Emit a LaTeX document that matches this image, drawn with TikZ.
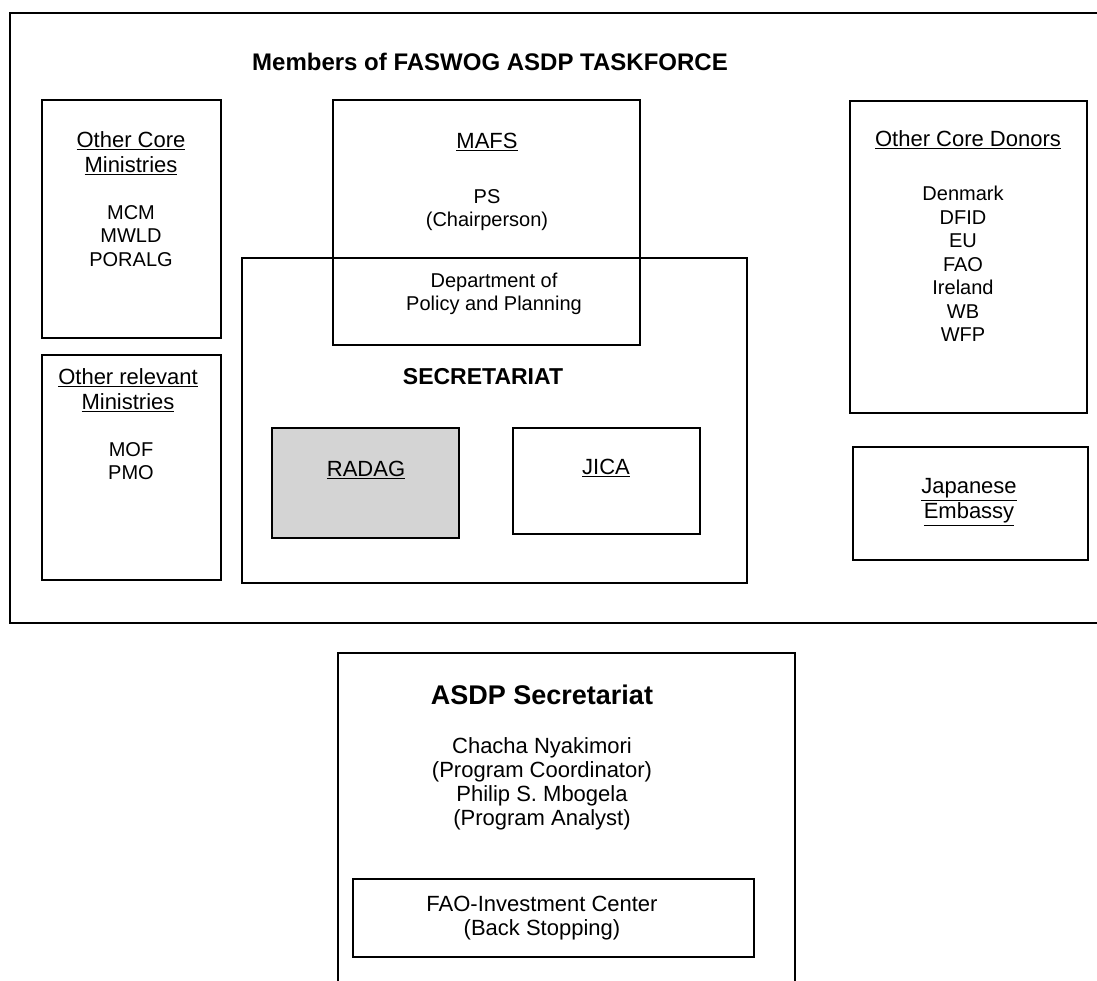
\documentclass[tikz,border=0pt]{standalone}
\usepackage{fontspec}
\setmainfont{Liberation Sans}
\begin{document}
\begin{tikzpicture}[x=1pt,y=-1pt,line width=1.6pt,every node/.style={font=\fontsize{20}{23.5}\selectfont,align=center,inner sep=0pt},head/.style={font=\bfseries\fontsize{23}{27}\selectfont},sub/.style={font=\fontsize{22}{25}\selectfont},low/.style={font=\fontsize{22}{24}\selectfont}]
		\useasboundingbox(0,0)rectangle(1097,981);
		\clip(0,0)rectangle(1097,981);
		\coordinate(TF1)at(10,13);
		\coordinate(TF2)at(1110,623);
		\coordinate(OCM1)at(42,100);
		\coordinate(OCM2)at(221,338);
		\coordinate(ORM1)at(42,355);
		\coordinate(ORM2)at(221,580);
		\coordinate(SEC1)at(242,258);
		\coordinate(SEC2)at(747,583);
		\coordinate(MAFS1)at(333,100);
		\coordinate(MAFS2)at(640,345);
		\coordinate(RADAG1)at(272,428);
		\coordinate(RADAG2)at(459,538);
		\coordinate(JICA1)at(513,428);
		\coordinate(JICA2)at(700,534);
		\coordinate(DON1)at(850,101);
		\coordinate(DON2)at(1087,413);
		\coordinate(EMB1)at(853,447);
		\coordinate(EMB2)at(1088,560);
		\coordinate(ASDP1)at(338,653);
		\coordinate(ASDP2)at(795,990);
		\coordinate(FAOIC1)at(353,879);
		\coordinate(FAOIC2)at(754,957);
		\fill[black!17](RADAG1)rectangle(RADAG2);
		\foreach\b in{TF,OCM,ORM,SEC,MAFS,RADAG,JICA,DON,EMB,FAOIC}{\draw(\b1)rectangle(\b2);}
		\draw(ASDP1|-ASDP2)--(ASDP1)--(ASDP2|-ASDP1)--(ASDP2);
		\node[head,font=\bfseries\fontsize{24}{28}\selectfont](title)at(490,62){Members of FASWOG ASDP TASKFORCE};
		\node[sub](ocmh)at(131,153){\underline{Other Core}\\\underline{Ministries}};
		\node(ocm)at(131,236){MCM\\MWLD\\PORALG};
		\node[sub](ormh)at(128,390){\underline{Other relevant}\\\underline{Ministries}};
		\node(orm)at(131,461){MOF\\PMO};
		\node[sub](mafs)at(487,142){\underline{MAFS}};
		\node(ps)at(487,210){PS\\(Chairperson)};
		\node(dpp)at(494,294){Department of\\Policy and Planning};
		\node[head](sec)at(483,377){SECRETARIAT};
		\node[sub](radag)at(366,470){\underline{RADAG}};
		\node[sub](jica)at(606,468){\underline{JICA}};
		\node[sub](donh)at(968,140){\underline{Other Core Donors}};
		\node(don)at(963,264){Denmark\\DFID\\EU\\FAO\\Ireland\\WB\\WFP};
		\node[sub](emb)at(969,502){\underline{Japanese}\\\underline{Embassy}};
		\node[head,font=\bfseries\fontsize{27}{30}\selectfont](asdp)at(542,695){ASDP Secretariat};
		\node[low](staff)at(542,784){Chacha Nyakimori\\(Program Coordinator)\\Philip S. Mbogela\\(Program Analyst)};
		\node[low](faoic)at(542,918){FAO-Investment Center\\(Back Stopping)};
		\end{tikzpicture}
\end{document}
